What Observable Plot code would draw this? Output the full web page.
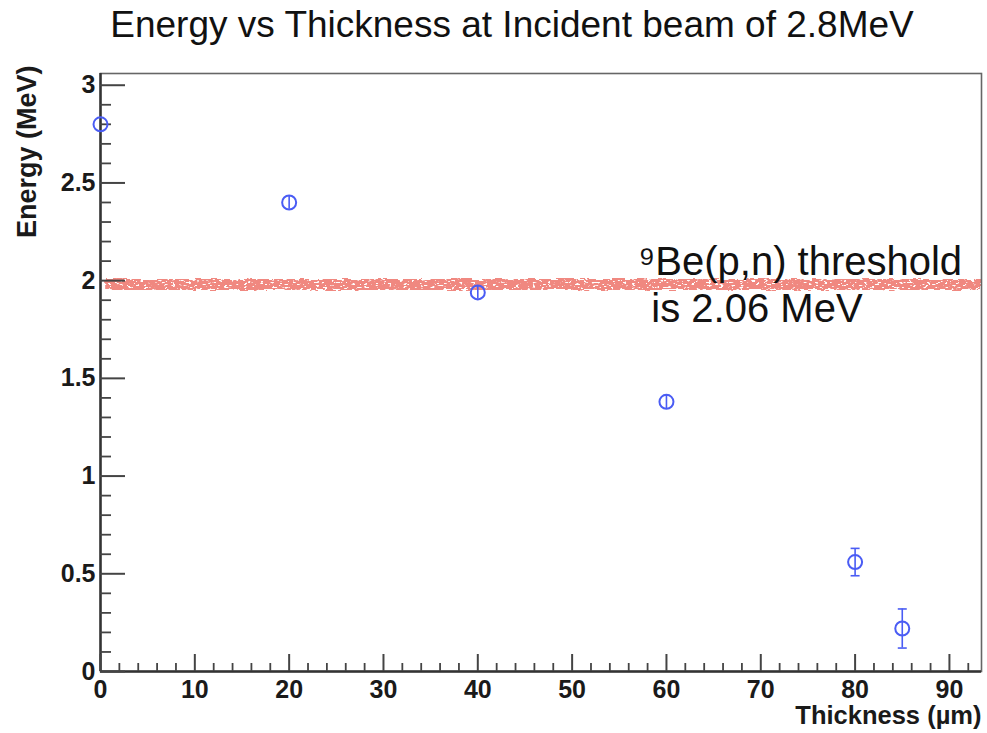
<!DOCTYPE html>
<html>
<head>
<meta charset="utf-8">
<script src="https://cdn.jsdelivr.net/npm/d3@7"></script>
<script src="https://cdn.jsdelivr.net/npm/@observablehq/plot@0.6"></script>
<style>
  body { margin: 0; background: #fff; width: 987px; height: 733px; overflow: hidden; position: relative; }
  #title { position: absolute; top: 6px; left: 512px; transform: translateX(-50%); white-space: nowrap;
           font-family: "Liberation Sans", Arial, Helvetica, sans-serif; font-size: 37px; line-height: 37px; color: #111; }
  #chart { position: absolute; top: 60px; left: 0; }
</style>
</head>
<body>
<div id="title">Energy vs Thickness at Incident beam of 2.8MeV</div>
<div id="chart"></div>
<script>
// ---- data ----
const thickness = [0, 20, 40, 60, 80, 85];
const energy = [2.80, 2.40, 1.94, 1.38, 0.56, 0.22];
const energyErr = [0, 0.035, 0.035, 0.035, 0.07, 0.10];
const xTicks = [0, 10, 20, 30, 40, 50, 60, 70, 80, 90];
const yTicks = [0, 0.5, 1, 1.5, 2, 2.5, 3];
const xDomain = [0, 93.4];
const yDomain = [0, 3.06];
const threshold = [{y: 1.98, x1: 0.55, x2: 93.4}];
const annotations = [
  {x: 57.0, y: 2.03, text: "\u2079Be(p,n) threshold"},
  {x: 58.4, y: 1.79, text: "is 2.06 MeV"}
];
const xTitle = "Thickness (\u00b5m)";
const yTitle = "Energy (MeV)";

const points = thickness.map((t, i) => ({x: t, y: energy[i], e: energyErr[i]}));
const xMinor = d3.range(0, 93, 2).filter(v => v % 10 !== 0);
const yMinor = d3.range(0, 31, 1).map(v => v / 10).filter(v => Math.round(v * 10) % 5 !== 0);

const W = 987, H = 673, mL = 100, mR = 6, mT = 13, mB = 62;
const innerW = W - mL - mR, innerH = H - mT - mB;
const blue = "#4a5cf4";
const bandColor = "#f08880";
const font = "Liberation Sans, Arial, Helvetica, sans-serif";

const capSymbol = {draw(ctx, size) { const w = 4.5; ctx.moveTo(-w, 0); ctx.lineTo(w, 0); }};

const chart = Plot.plot({
  width: W, height: H,
  marginLeft: mL, marginRight: mR, marginTop: mT, marginBottom: mB,
  style: {fontFamily: font, background: "#fff", color: "#1a1a1a"},
  x: {domain: xDomain},
  y: {domain: yDomain},
  marks: [
    // threshold band
    Plot.ruleY(threshold, {y: "y", x1: "x1", x2: "x2", stroke: bandColor, strokeWidth: 11}),
    // frame
    Plot.frame({stroke: "#666", strokeWidth: 1.6}),
    Plot.ruleX([0], {stroke: "#333", strokeWidth: 2.5}),
    Plot.ruleY([0], {stroke: "#333", strokeWidth: 2.5}),
    // x ticks (inside)
    Plot.ruleX(xTicks, {stroke: "#444", strokeWidth: 2, insetTop: innerH - 17}),
    Plot.ruleX(xMinor, {stroke: "#444", strokeWidth: 1.8, insetTop: innerH - 8}),
    // y ticks (inside)
    Plot.ruleY(yTicks, {stroke: "#444", strokeWidth: 2, insetRight: innerW - 25}),
    Plot.ruleY(yMinor, {stroke: "#444", strokeWidth: 1.8, insetRight: innerW - 11}),
    // tick labels
    Plot.axisX({ticks: xTicks, tickSize: 0, tickPadding: 9, fontSize: 25, fontWeight: "bold", label: null, tickFormat: d => String(d)}),
    Plot.axisY({ticks: yTicks, tickSize: 0, tickPadding: 5, fontSize: 25, fontWeight: "bold", label: null, tickFormat: d => String(d)}),
    // axis titles
    Plot.text([xTitle], {frameAnchor: "bottom-right", text: d => d, textAnchor: "end", lineAnchor: "middle", dy: 44, fontSize: 25.5, fontWeight: "bold", fill: "#1a1a1a"}),
    Plot.text([yTitle], {frameAnchor: "top-left", text: d => d, rotate: -90, textAnchor: "end", lineAnchor: "middle", dx: -73, dy: -8, fontSize: 27, fontWeight: "bold", fill: "#1a1a1a"}),
    // error bars
    Plot.ruleX(points, {x: "x", y1: d => d.y - d.e, y2: d => d.y + d.e, stroke: blue, strokeWidth: 1.6}),
    Plot.dot(points.filter(d => d.e > 0.05), {x: "x", y: d => d.y + d.e, symbol: capSymbol, stroke: blue, strokeWidth: 1.6, r: 3}),
    Plot.dot(points.filter(d => d.e > 0.05), {x: "x", y: d => d.y - d.e, symbol: capSymbol, stroke: blue, strokeWidth: 1.6, r: 3}),
    // markers
    Plot.dot(points, {x: "x", y: "y", r: 7, stroke: blue, strokeWidth: 2, fill: "none"}),
    // annotation
    Plot.text(annotations, {x: "x", y: "y", text: "text", textAnchor: "start", lineAnchor: "bottom", fontSize: 40, fill: "#111"})
  ]
});

document.getElementById("chart").appendChild(chart);

// rough-edged marker-like texture for the threshold band
const svg = d3.select(chart.tagName.toLowerCase() === "svg" ? chart : chart.querySelector("svg"));
svg.insert("defs", ":first-child").html(
  `<filter id="rough" filterUnits="userSpaceOnUse" x="0" y="0" width="${W}" height="${H}">
     <feTurbulence type="fractalNoise" baseFrequency="0.08 0.5" numOctaves="2" seed="4" result="noise"/>
     <feDisplacementMap in="SourceGraphic" in2="noise" scale="5" xChannelSelector="R" yChannelSelector="G" result="disp"/>
     <feTurbulence type="fractalNoise" baseFrequency="0.25 0.6" numOctaves="2" seed="9" result="speck"/>
     <feColorMatrix in="speck" type="matrix" values="0 0 0 0 0  0 0 0 0 0  0 0 0 0 0  0 0 0 -14 9.6" result="mask"/>
     <feComposite in="disp" in2="mask" operator="in"/>
   </filter>`
);
svg.selectAll("g").filter(function() { return this.getAttribute("stroke") === bandColor; }).attr("filter", "url(#rough)");
</script>
</body>
</html>
